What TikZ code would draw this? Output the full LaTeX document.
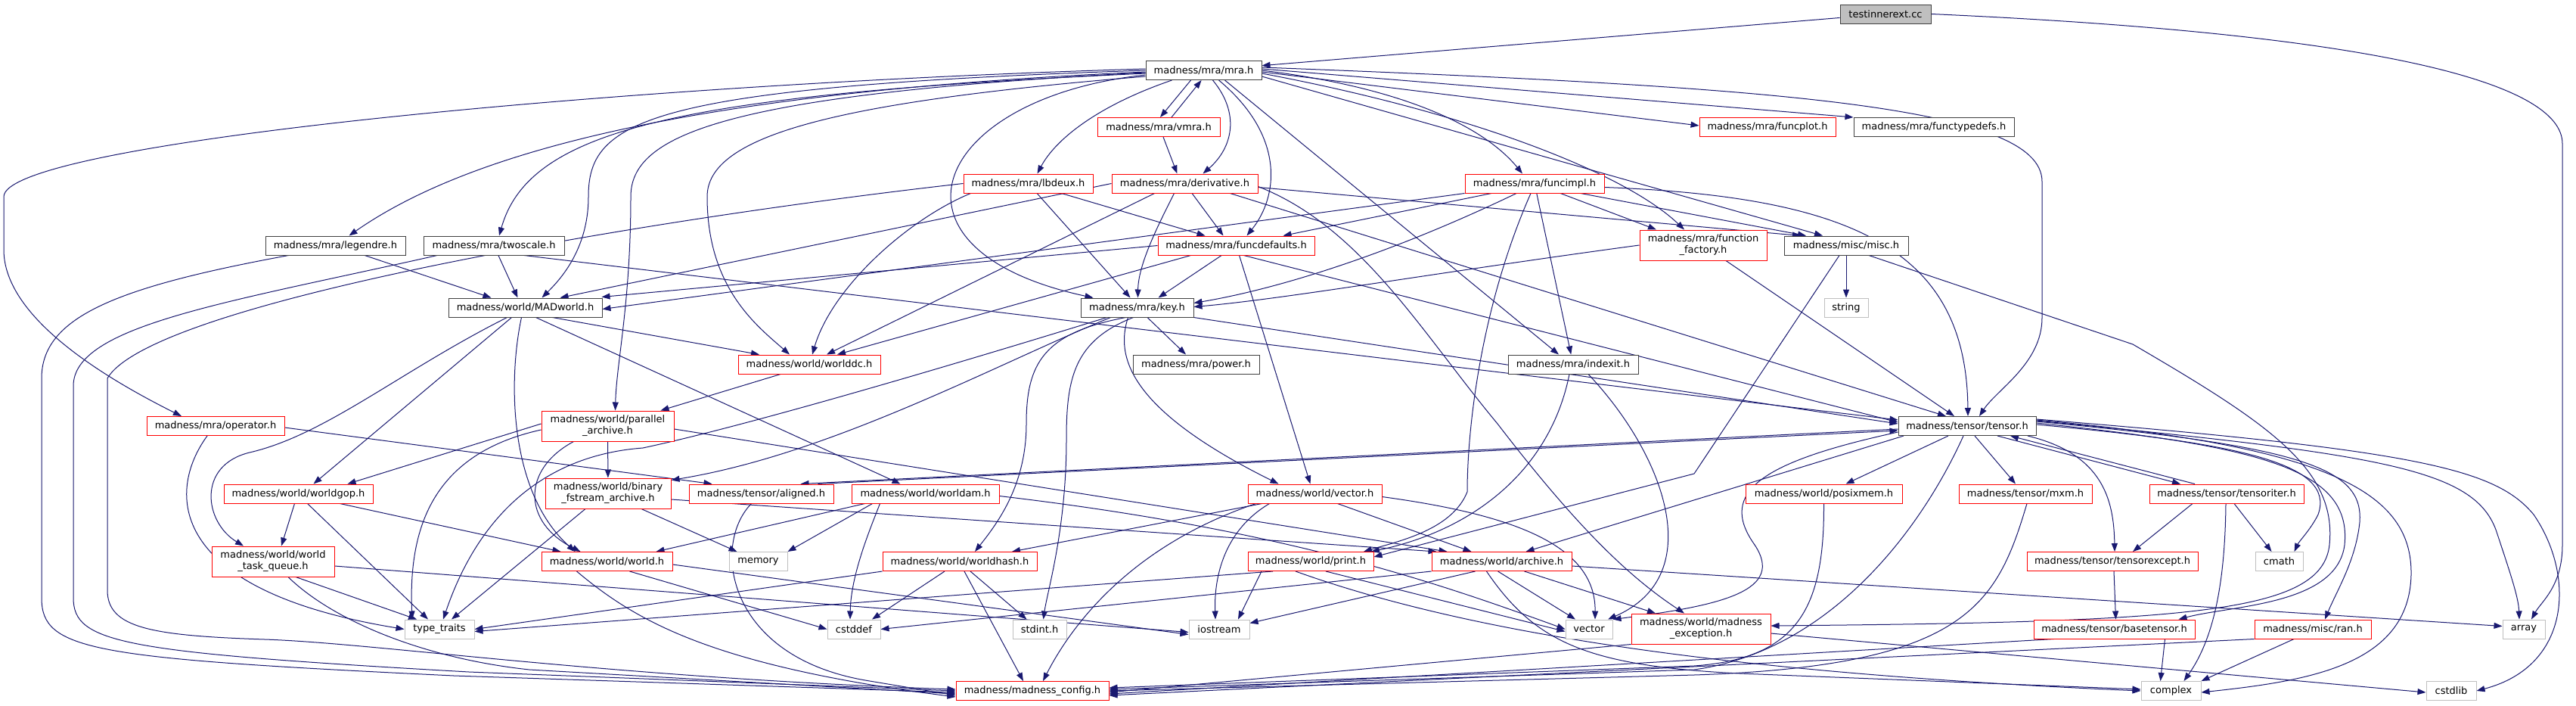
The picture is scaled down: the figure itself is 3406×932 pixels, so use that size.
\documentclass[tikz,border=0pt]{standalone}
\usepackage{fontspec}
\setmainfont{DejaVu Sans}
\usetikzlibrary{arrows.meta}
\definecolor{eb}{HTML}{191970}
\definecolor{bk}{HTML}{404040}
\definecolor{gy}{HTML}{BFBFBF}
\pgfdeclarelayer{bglayer}
\pgfdeclarelayer{edgelayer}
\pgfsetlayers{bglayer,edgelayer,main}
\begin{document}
\begin{tikzpicture}[x=1pt,y=-1pt,font=\fontsize{13}{15}\selectfont,
  box/.style={draw,line width=1pt,fill=white,minimum height=25pt,inner xsep=0pt,inner ysep=0pt,align=center,text=black},
  blk/.style={box,draw=bk},
  rd/.style={box,draw=red},
  gr/.style={box,draw=gy},
  tstbox/.style={box,draw=bk,fill=gy},
  edg/.style={draw=eb,line width=1pt,-{Triangle[length=11pt,width=8pt]}}]
\begin{pgfonlayer}{bglayer}
\fill[white] (0,0) rectangle (3406,932);
\end{pgfonlayer}
\useasboundingbox (0,0) rectangle (3406,932);
% nodes
\node[tstbox,minimum width=120pt] (tst) at (2493,18.5) {testinnerext.cc};
\node[blk,minimum width=153pt] (mra) at (1591.5,93) {madness/mra/mra.h};
\node[rd,minimum width=162pt] (vmra) at (1532,168) {madness/mra/vmra.h};
\node[rd,minimum width=171pt] (lbdeux) at (1359.5,242.5) {madness/mra/lbdeux.h};
\node[rd,minimum width=193pt] (deriv) at (1566.5,242.5) {madness/mra/derivative.h};
\node[rd,minimum width=207pt] (fdef) at (1634.5,324.5) {madness/mra/funcdefaults.h};
\node[blk,minimum width=149pt] (key) at (1503.5,406.5) {madness/mra/key.h};
\node[blk,minimum width=167pt] (power) at (1581.5,481.5) {madness/mra/power.h};
\node[blk,minimum width=185pt] (legendre) at (443.5,324.5) {madness/mra/legendre.h};
\node[blk,minimum width=186pt] (twoscale) at (653,324.5) {madness/mra/twoscale.h};
\node[blk,minimum width=203pt] (madw) at (694.5,406.5) {madness/world/MADworld.h};
\node[rd,minimum width=188pt] (wdc) at (1070,481.5) {madness/world/worlddc.h};
\node[rd,minimum width=184pt] (fimpl) at (2029,242.5) {madness/mra/funcimpl.h};
\node[rd,minimum width=168pt,minimum height=40pt] (ffact) at (2252,324) {madness/mra/function\\\_factory.h};
\node[blk,minimum width=164pt] (misc) at (2441,324.5) {madness/misc/misc.h};
\node[gr,minimum width=58pt] (string) at (2441,406.5) {string};
\node[rd,minimum width=180pt] (fplot) at (2337,168) {madness/mra/funcplot.h};
\node[blk,minimum width=212pt] (ftypes) at (2557,168) {madness/mra/functypedefs.h};
\node[blk,minimum width=172pt] (indexit) at (2080,481.5) {madness/mra/indexit.h};
\node[blk,minimum width=182pt] (tensor) at (2601,563) {madness/tensor/tensor.h};
\node[rd,minimum width=182pt] (operator) at (285,563) {madness/mra/operator.h};
\node[rd,minimum width=175pt,minimum height=40pt] (parch) at (803.5,563) {madness/world/parallel\\\_archive.h};
\node[rd,minimum width=197pt] (wgop) at (394.5,652.5) {madness/world/worldgop.h};
\node[rd,minimum width=166pt,minimum height=40pt] (binfs) at (804,652) {madness/world/binary\\\_fstream\_archive.h};
\node[rd,minimum width=191pt] (aligned) at (1006.5,652.5) {madness/tensor/aligned.h};
\node[rd,minimum width=195pt] (worldam) at (1223.5,652.5) {madness/world/worldam.h};
\node[rd,minimum width=177pt] (wvec) at (1738.5,652.5) {madness/world/vector.h};
\node[rd,minimum width=207pt] (posix) at (2411.5,652.5) {madness/world/posixmem.h};
\node[rd,minimum width=176pt] (mxm) at (2678,652.5) {madness/tensor/mxm.h};
\node[rd,minimum width=204pt] (titer) at (2944,652.5) {madness/tensor/tensoriter.h};
\node[rd,minimum width=162pt,minimum height=40pt] (wtq) at (361,742) {madness/world/world\\\_task\_queue.h};
\node[rd,minimum width=173pt] (world) at (802.5,742) {madness/world/world.h};
\node[gr,minimum width=77pt] (memory) at (1002.5,742) {memory};
\node[rd,minimum width=204pt] (whash) at (1269,742) {madness/world/worldhash.h};
\node[rd,minimum width=166pt] (print) at (1733,742) {madness/world/print.h};
\node[rd,minimum width=185pt] (archive) at (1985.5,742) {madness/world/archive.h};
\node[rd,minimum width=226pt] (texcept) at (2793,742) {madness/tensor/tensorexcept.h};
\node[gr,minimum width=63pt] (cmath) at (3013.5,742) {cmath};
\node[gr,minimum width=92pt] (ttraits) at (581,831.5) {type\_traits};
\node[gr,minimum width=70pt] (cstddef) at (1129,831.5) {cstddef};
\node[gr,minimum width=71pt] (stdint) at (1374.5,831.5) {stdint.h};
\node[gr,minimum width=80pt] (iostream) at (1612,831.5) {iostream};
\node[gr,minimum width=62pt] (vector) at (2101,831.5) {vector};
\node[rd,minimum width=184pt,minimum height=40pt] (mexc) at (2249,831) {madness/world/madness\\\_exception.h};
\node[rd,minimum width=213pt] (btensor) at (2795.5,831.5) {madness/tensor/basetensor.h};
\node[rd,minimum width=154pt] (ran) at (3058,831.5) {madness/misc/ran.h};
\node[gr,minimum width=56pt] (array) at (3337,831.5) {array};
\node[rd,minimum width=202pt] (config) at (1365,913) {madness/madness\_config.h};
\node[gr,minimum width=79pt] (complex) at (2870.5,913) {complex};
\node[gr,minimum width=66pt] (cstdlib) at (3241,913) {cstdlib};
\begin{pgfonlayer}{edgelayer}
% top
\draw[edg] (tst) -- (mra);
\draw[edg] (tst.east) .. controls (3150,45) and (3388,110) .. (3388,190) -- (3388,720) .. controls (3388,775) and (3360,795) .. ([xshift=10pt]array.north);
% mra cluster
\draw[edg] ([xshift=-17pt]mra.south) -- ([xshift=2pt]vmra.north);
\draw[edg] ([xshift=17pt]vmra.north) -- ([xshift=-3pt]mra.south);
\draw[edg] ([xshift=12pt]mra.south) .. controls (1640,150) and (1630,195) .. ([xshift=24pt]deriv.north);
\draw[edg] ([xshift=6pt]vmra.south) -- ([xshift=-10pt]deriv.north);
\draw[edg] ([xshift=-42pt]mra.south) .. controls (1450,140) and (1395,185) .. ([xshift=12pt]lbdeux.north);
\draw[edg] ([xshift=20pt]mra.south) .. controls (1700,180) and (1690,260) .. ([xshift=14pt]fdef.north);
\draw[edg] ([yshift=-6pt]mra.west) .. controls (1230,130) and (1150,330) .. ([xshift=-58pt]key.north);
\draw[edg] (mra.east) .. controls (1850,115) and (1960,165) .. ([xshift=-16pt]fimpl.north);
\draw[edg] ([yshift=-4pt]mra.east) .. controls (1950,150) and (2150,230) .. ([xshift=-25pt]ffact.north);
\draw[edg] ([yshift=-8pt]mra.east) -- ([xshift=-31pt]misc.north);
\draw[edg] ([yshift=-2pt]mra.east) -- ([yshift=2pt]fplot.west);
\draw[edg] ([yshift=2pt]mra.east) -- (ftypes.north west);
\draw[edg] ([yshift=4pt]mra.east) .. controls (2350,115) and (2700,140) .. (2700,240) -- (2700,420) .. controls (2700,480) and (2640,515) .. ([xshift=16pt]tensor.north);
\draw[edg] ([xshift=28pt]mra.south) -- ([xshift=-19pt]indexit.north);
\draw[edg] ([yshift=-2pt]mra.west) .. controls (1000,118) and (650,180) .. ([xshift=18pt]legendre.north);
\draw[edg] ([yshift=-4pt]mra.west) .. controls (900,125) and (700,170) .. ([xshift=7pt]twoscale.north);
\draw[edg] (mra.west) .. controls (850,115) and (778,160) .. (778,260) .. controls (778,330) and (740,370) .. ([xshift=22pt]madw.north);
\draw[edg] ([yshift=-8pt]mra.west) .. controls (1100,135) and (935,180) .. (935,260) .. controls (935,380) and (1000,430) .. ([xshift=-26pt]wdc.north);
\draw[edg] ([yshift=-3pt]mra.west) .. controls (950,125) and (834,180) .. (834,260) .. controls (834,400) and (815,480) .. ([xshift=10pt]parch.north);
\draw[edg] ([yshift=2pt]mra.west) .. controls (800,112) and (5,190) .. (5,260) -- (5,330) .. controls (5,420) and (140,500) .. ([xshift=-45pt]operator.north);
% middle
\draw[edg] (deriv) -- ([xshift=-17pt]fdef.north);
\draw[edg] (lbdeux) -- ([xshift=-41pt]fdef.north);
\draw[edg] ([xshift=-57pt]fimpl.south) -- ([xshift=62pt]fdef.north);
\draw[edg] (lbdeux) -- ([xshift=-9pt]key.north);
\draw[edg] ([xshift=-14pt]deriv.south) .. controls (1530,300) and (1505,350) .. ([xshift=1pt]key.north);
\draw[edg] (fdef) -- ([xshift=28pt]key.north);
\draw[edg] ([xshift=-24pt]fimpl.south) .. controls (1850,330) and (1700,380) .. ([yshift=6pt]key.east);
\draw[edg] (ffact.west) .. controls (1900,360) and (1700,395) .. ([yshift=1pt]key.east);
\draw[edg] (key) -- (power);
\draw[edg] (fimpl) -- ([xshift=-62pt]ffact.north);
\draw[edg] ([xshift=61pt]fimpl.south) -- ([xshift=-53pt]misc.north);
\draw[edg] ([yshift=-5pt]deriv.east) -- ([xshift=-60pt]misc.north);
\draw[edg] (fimpl) -- (indexit);
\draw[edg] (misc) -- (string);
\draw[edg] (ffact) -- ([xshift=-17pt]tensor.north);
\draw[edg] ([xshift=60pt]deriv.south) -- ([xshift=-28pt]tensor.north);
\draw[edg] ([yshift=-5pt]fimpl.east) .. controls (2450,260) and (2600,330) .. ([xshift=1pt]tensor.north);
\draw[edg] ([xshift=40pt]twoscale.south) -- ([yshift=8pt]tensor.west);
\draw[edg] (key.south east) -- ([yshift=3pt]tensor.west);
\draw[edg] ([xshift=10pt]fdef.south) -- ([yshift=5pt]tensor.west);
% left group
\draw[edg] (legendre) -- ([xshift=-45pt]madw.north);
\draw[edg] (twoscale) -- ([xshift=-10pt]madw.north);
\draw[edg] (deriv.west) -- ([xshift=46pt]madw.north);
\draw[edg] (fdef.west) -- ([xshift=-1pt,yshift=1pt]madw.north east);
\draw[edg] (fimpl.south west) -- ([yshift=-2pt]madw.east);
\draw[edg] ([xshift=-62pt]legendre.south) .. controls (150,380) and (55,420) .. (55,500) -- (55,790) .. controls (55,860) and (120,870) .. (600,893) -- ([yshift=-2pt]config.west);
\draw[edg] ([xshift=-75pt]twoscale.south) .. controls (300,400) and (97,430) .. (97,510) -- (97,790) .. controls (97,850) and (160,862) .. (620,888) -- (config.west);
\draw[edg] (lbdeux.west) .. controls (850,290) and (200,400) .. (142,500) -- (142,780) .. controls (142,830) and (200,840) .. (350,845) .. controls (500,850) and (800,895) .. ([yshift=2pt]config.west);
% MADworld
\draw[edg] ([xshift=36pt]madw.south) -- ([xshift=-66pt]wdc.north);
\draw[edg] ([xshift=-5pt]madw.south) .. controls (672,500) and (672,650) .. ([xshift=-42pt]world.north);
\draw[edg] ([xshift=-18pt]madw.south) -- ([xshift=20pt]wgop.north);
\draw[edg] ([xshift=-24pt]madw.south) .. controls (530,490) and (430,575) .. (330,598) .. controls (260,615) and (270,690) .. ([xshift=-39pt]wtq.north);
\draw[edg] ([xshift=14pt]madw.south) -- ([xshift=-33pt]worldam.north);
% worlddc
\draw[edg] ([xshift=10pt]lbdeux.south west) .. controls (1200,290) and (1100,380) .. ([xshift=4pt]wdc.north);
\draw[edg] ([xshift=-40pt]deriv.south) -- ([xshift=23pt]wdc.north);
\draw[edg] ([xshift=-60pt]fdef.south) -- ([xshift=37pt]wdc.north);
\draw[edg] ([xshift=-38pt]wdc.south) -- ([xshift=70pt]parch.north);
% parallel archive
\draw[edg] (parch) -- (binfs);
\draw[edg] ([xshift=-45pt]parch.south) .. controls (690,620) and (690,690) .. ([xshift=-35pt]world.north);
\draw[edg] ([yshift=3pt]parch.west) -- ([xshift=65pt]wgop.north);
\draw[edg] ([yshift=-5pt]parch.west) .. controls (570,600) and (540,700) .. ([xshift=-36pt]ttraits.north);
\draw[edg] ([yshift=-4pt]parch.east) -- ([xshift=-72pt]archive.north);
% binary
\draw[edg] ([xshift=-30pt]binfs.south) -- ([xshift=16pt]ttraits.north);
\draw[edg] ([xshift=44pt]binfs.south) -- ([xshift=-28pt]memory.north);
\draw[edg] ([yshift=-8pt]binfs.east) -- ([xshift=-86pt]archive.north);
% key
\draw[edg] ([xshift=-35pt]key.south) .. controls (1320,480) and (1100,600) .. ([yshift=-3pt]binfs.north east);
\draw[edg] ([xshift=-15pt]key.south) .. controls (1380,440) and (1357,480) .. (1357,560) .. controls (1357,640) and (1320,690) .. ([xshift=20pt]whash.north);
\draw[edg] ([xshift=-5pt]key.south) .. controls (1420,450) and (1410,500) .. (1410,580) .. controls (1410,700) and (1385,780) .. ([xshift=5pt]stdint.north);
\draw[edg] ([xshift=-12pt]key.south) .. controls (1475,470) and (1490,540) .. ([xshift=-48pt]wvec.north);
\draw[edg] ([xshift=-40pt]key.south) .. controls (1300,470) and (1000,560) .. (850,592) .. controls (740,600) and (640,660) .. ([xshift=5pt]ttraits.north);
\draw[edg] (fdef) -- ([xshift=-6pt]wvec.north);
% worldam
\draw[edg] ([xshift=-80pt]worldam.south) -- ([xshift=65pt]world.north);
\draw[edg] ([xshift=-70pt]worldam.south) -- (memory.north east);
\draw[edg] ([xshift=-60pt]worldam.south) .. controls (1150,700) and (1125,760) .. ([xshift=-5pt]cstddef.north);
\draw[edg] ([yshift=-3pt]worldam.east) .. controls (1700,700) and (1900,770) .. (vector.west);
% worldgop, task queue
\draw[edg] ([xshift=-5pt]wgop.south) -- ([xshift=11pt]wtq.north);
\draw[edg] ([xshift=12pt]wgop.south) -- ([xshift=-15pt]ttraits.north);
\draw[edg] ([xshift=55pt]wgop.south) -- ([xshift=-61pt]world.north);
\draw[edg] ([xshift=30pt]wtq.south) -- ([xshift=-30pt]ttraits.north);
\draw[edg] ([xshift=20pt]wtq.south) .. controls (440,820) and (560,870) .. (700,885) -- ([yshift=-4pt]config.west);
\draw[edg] ([yshift=-6pt]wtq.east) -- ([yshift=-4pt]iostream.west);
% operator
\draw[edg] ([yshift=-2pt]operator.east) -- ([xshift=-65pt]aligned.north);
\draw[edg] ([xshift=-11pt]operator.south) .. controls (220,650) and (220,780) .. (ttraits.west);
% aligned / tensor
\draw[edg] ([yshift=-4pt]tensor.west) -- ([xshift=52pt]aligned.north);
\draw[edg] ([xshift=75pt]aligned.north) -- ([yshift=-6pt]tensor.west);
\draw[edg] ([xshift=-13pt]aligned.south) .. controls (940,720) and (960,870) .. (1150,900) -- ([yshift=-6pt]config.west);
% world
\draw[edg] ([xshift=30pt]world.south) -- (cstddef.west);
\draw[edg] ([xshift=-40pt]world.south) .. controls (840,820) and (940,880) .. ([yshift=-8pt]config.west);
\draw[edg] ([yshift=-4pt]world.east) -- ([yshift=-7pt]iostream.west);
% worldhash
\draw[edg] (whash.south west) -- (ttraits.east);
\draw[edg] ([xshift=-20pt]whash.south) -- ([xshift=24pt]cstddef.north);
\draw[edg] ([xshift=14pt]whash.south) -- ([xshift=-17pt]stdint.north);
\draw[edg] ([xshift=6pt]whash.south) -- ([xshift=-12pt]config.north);
% world vector
\draw[edg] ([xshift=-70pt]wvec.south) -- ([xshift=69pt]whash.north);
\draw[edg] ([xshift=-60pt]wvec.south) .. controls (1620,700) and (1605,760) .. ([xshift=-5pt]iostream.north);
\draw[edg] ([xshift=-78pt]wvec.south) .. controls (1500,720) and (1420,820) .. ([xshift=14pt]config.north);
\draw[edg] ([xshift=30pt]wvec.south) -- ([xshift=-40pt]archive.north);
\draw[edg] ([yshift=-4pt]wvec.east) .. controls (2000,680) and (2110,720) .. ([xshift=8pt]vector.north);
% print
\draw[edg] ([xshift=-50pt]print.south) -- ([yshift=-3pt]ttraits.east);
\draw[edg] ([xshift=-65pt]print.south) -- ([xshift=25pt]iostream.north);
\draw[edg] ([xshift=20pt]print.south) -- ([yshift=-3pt]vector.west);
\draw[edg] ([xshift=-20pt]print.south) .. controls (1950,840) and (2300,890) .. (complex.west);
% funcimpl / indexit / misc -> print
\draw[edg] ([xshift=-5pt]fimpl.south) .. controls (1960,400) and (1940,560) .. (1940,650) .. controls (1920,700) and (1850,715) .. ([xshift=70pt]print.north);
\draw[edg] ([xshift=-5pt]indexit.south) .. controls (2050,620) and (1950,700) .. ([xshift=80pt]print.north);
\draw[edg] ([xshift=20pt]indexit.south) .. controls (2200,600) and (2260,760) .. ([xshift=25pt]vector.north);
\draw[edg] ([xshift=-9pt]misc.south) -- (2240,626) -- ([yshift=6pt]print.east);
\draw[edg] ([xshift=30pt]misc.south) -- (2820,455) .. controls (3000,560) and (3090,620) .. (3080,720) .. controls (3070,810) and (2900,822) .. ([yshift=4pt]mexc.east);
\draw[edg] ([yshift=-4pt]deriv.east) .. controls (1800,300) and (1880,440) .. (1980,560) .. controls (2080,690) and (2150,760) .. ([xshift=-22pt]mexc.north);
% archive
\draw[edg] ([xshift=-5pt]archive.south) -- ([xshift=-18pt]vector.north);
\draw[edg] ([xshift=30pt]archive.south) -- ([xshift=-60pt]mexc.north);
\draw[edg] ([xshift=-35pt]archive.south) -- ([yshift=8pt]iostream.east);
\draw[edg] (archive.south west) -- (cstddef.east);
\draw[edg] ([xshift=-20pt]archive.south) .. controls (2030,850) and (2100,880) .. (2300,890) -- ([yshift=2pt]complex.west);
\draw[edg] ([yshift=-6pt]archive.east) -- ([yshift=4pt]array.west);
% madness exception
\draw[edg] ([yshift=-6pt]mexc.east) -- ([yshift=-2pt]cstdlib.west);
\draw[edg] (mexc.south west) -- ([yshift=-2pt]config.east);
% tensor cluster
\draw[edg] ([xshift=-25pt]tensor.south) -- ([xshift=29pt]posix.north);
\draw[edg] ([xshift=10pt]tensor.south) -- ([xshift=-13pt]mxm.north);
\draw[edg] ([xshift=40pt]tensor.south) -- ([xshift=-61pt]titer.north);
\draw[edg] ([xshift=-42pt]titer.north) -- ([xshift=57pt]tensor.south);
\draw[edg] ([xshift=80pt]tensor.south) .. controls (2780,600) and (2795,660) .. ([xshift=3pt]texcept.north);
\draw[edg] ([xshift=-45pt]titer.south) -- ([xshift=27pt]texcept.north);
\draw[edg] ([xshift=10pt]titer.south) -- ([xshift=-10pt]cmath.north);
\draw[edg] ([yshift=2pt]tensor.east) .. controls (2950,585) and (3090,610) .. (3065,680) .. controls (3055,700) and (3040,715) .. ([xshift=20pt]cmath.north);
\draw[edg] ([xshift=-1pt]titer.south) .. controls (2942,760) and (2930,840) .. ([xshift=17pt]complex.north);
\draw[edg] ([xshift=2pt]texcept.south) -- ([xshift=2pt]btensor.north);
\draw[edg] ([yshift=4pt]tensor.east) .. controls (2990,590) and (3110,620) .. (3100,720) .. controls (3090,800) and (2950,800) .. ([xshift=85pt]btensor.north);
\draw[edg] ([yshift=6pt]tensor.east) .. controls (3050,590) and (3125,620) .. (3120,690) .. controls (3115,740) and (3090,780) .. ([xshift=16pt]ran.north);
\draw[edg] ([yshift=8pt]tensor.east) .. controls (3080,590) and (3190,650) .. (3188,760) .. controls (3185,880) and (3050,900) .. ([yshift=-2pt]complex.east);
\draw[edg] ([yshift=7pt]tensor.east) .. controls (3150,600) and (3270,620) .. (3300,700) .. controls (3320,760) and (3330,790) .. ([xshift=-6pt]array.north);
\draw[edg] ([yshift=9pt]tensor.east) .. controls (3200,595) and (3300,620) .. (3350,680) .. controls (3405,760) and (3400,880) .. (cstdlib.east);
\draw[edg] ([xshift=67pt]btensor.south) -- ([xshift=-14pt]complex.north);
\draw[edg] ([xshift=-25pt]ran.south) -- (complex.north east);
\draw[edg] ([xshift=-80pt]btensor.south) -- ([yshift=-4pt]config.east);
\draw[edg] (ran.south west) -- ([yshift=-6pt]config.east);
\draw[edg] (posix.south) .. controls (2412,800) and (2380,870) .. (2240,880) -- ([yshift=4pt]config.east);
\draw[edg] ([xshift=2pt]mxm.south) .. controls (2640,800) and (2600,880) .. (2240,892) -- (config.east);
\draw[edg] ([xshift=-5pt]tensor.south) .. controls (2540,700) and (2420,860) .. (2240,885) -- ([yshift=2pt]config.east);
\draw[edg] ([xshift=-84pt]tensor.south) -- ([xshift=32pt]archive.north);
\draw[edg] ([yshift=-8pt]tensor.west) .. controls (2330,610) and (2270,650) .. (2320,720) .. controls (2360,780) and (2280,800) .. (vector.north east);
\end{pgfonlayer}
\end{tikzpicture}
\end{document}
